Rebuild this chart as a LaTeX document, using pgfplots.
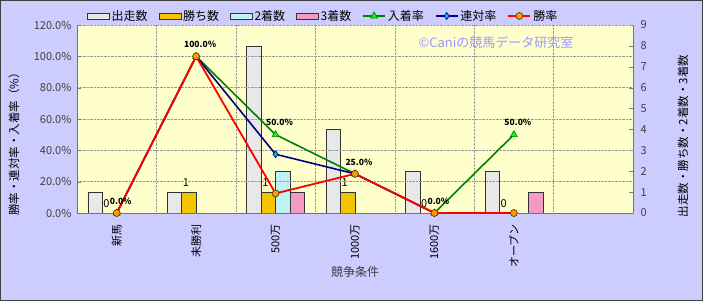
\documentclass[border=0pt]{standalone}
\usepackage{pgfplots}
\pgfplotsset{compat=1.18}
\usepackage{fontspec}
\setmainfont{Noto Sans CJK JP}
\definecolor{outerbg}{HTML}{CCCCFF}
\definecolor{plotbg}{HTML}{FFFFCC}
\definecolor{barrun}{HTML}{E8E8E8}
\definecolor{barwin}{HTML}{F5C400}
\definecolor{barsec}{HTML}{BFF2F2}
\definecolor{barthr}{HTML}{F49AC8}
\definecolor{lgreen}{HTML}{008000}
\definecolor{lnavy}{HTML}{000080}
\definecolor{mkorange}{HTML}{FF9900}
\definecolor{wmark}{HTML}{9999FF}
\newcommand{\tfont}{\fontsize{11}{13}\selectfont}
\pgfplotsset{
  barleg/.style={legend image code/.code={\draw[##1] (0pt,-3pt) rectangle (22pt,3pt);}},
  lineleg/.style={legend image code/.code={\draw[##1,mark repeat=2,mark phase=2] plot coordinates {(0pt,0pt) (11pt,0pt) (22pt,0pt)};}},
}
\begin{document}
\begin{tikzpicture}[x=1pt,y=1pt]
\fill[outerbg, draw=black!75, line width=1pt] (0.5,0.5) rectangle (702.5,300.5);
% ---------------- bar axis (counts, right) ----------------
\begin{axis}[
  at={(77pt,88pt)}, anchor=south west,
  scale only axis, width=556pt, height=188pt,
  xmin=-0.5, xmax=6.5, ymin=0, ymax=9,
  /pgf/number format/assume math mode=true,
  axis background/.style={fill=plotbg},
  axis x line*=bottom, axis y line*=right,
  axis line style={-, draw=black!55},
  tick align=inside, major tick length=4pt,
  ytick={0,...,9},
  y tick label style={font=\tfont, text=black!75},
  yticklabel shift=4pt,
  xtick={0,...,6},
  xticklabels={新馬,未勝利,500万,1000万,1600万,オープン,{}},
  x tick label style={rotate=90, anchor=east, font=\tfont},
  xticklabel shift=4pt,
  major x tick style={draw=none},
  minor xtick={0.5,1.5,2.5,3.5,4.5,5.5},
  minor x tick style={draw=none},
  xminorgrids, minor x grid style={densely dotted, black!40},
  xlabel={競争条件},
  xlabel style={at={(axis description cs:0.5,-0.314)}, anchor=center, font=\fontsize{12}{14}\selectfont, text=black!75},
  ylabel={出走数・勝ち数・2着数・3着数},
  ylabel style={at={(axis description cs:1.090,0.41)}, anchor=center, rotate=0, font=\fontsize{11.5}{14}\selectfont},
  ybar=0pt, bar width=14.5pt,
  clip=false,
]
\addplot[draw=black!80, fill=barrun]
  coordinates {(0,1) (1,1) (2,8) (3,4) (4,2) (5,2)};
\addplot[draw=black!80, fill=barwin,
  nodes near coords={\pgfmathprintnumber[assume math mode=true]{\pgfplotspointmeta}},
  every node near coord/.append style={font=\tfont, text=black, yshift=2pt, xshift=-3pt},
  nodes near coords align=vertical]
  coordinates {(0,0) (1,1) (2,1) (3,1) (4,0) (5,0)};
\addplot[draw=black!80, fill=barsec]
  coordinates {(0,0) (1,0) (2,2) (3,0) (4,0) (5,0)};
\addplot[draw=black!80, fill=barthr]
  coordinates {(0,0) (1,0) (2,1) (3,0) (4,0) (5,1)};
\end{axis}
% ---------------- line axis (rates, left) ----------------
\begin{axis}[
  at={(77pt,88pt)}, anchor=south west,
  scale only axis, width=556pt, height=188pt,
  xmin=-0.5, xmax=6.5, ymin=0, ymax=120,
  /pgf/number format/assume math mode=true,
  axis x line*=bottom, axis y line*=left,
  axis line style={-, draw=black!55},
  tick align=inside, major tick length=4pt,
  xtick=\empty,
  ytick={0,20,...,120},
  yticklabel={\pgfmathprintnumber[fixed,fixed zerofill,precision=1]{\tick}\%},
  y tick label style={font=\tfont, text=black!75},
  yticklabel shift=2pt,
  ymajorgrids, major y grid style={densely dotted, black!40},
  ylabel={勝率・連対率・入着率（\%）},
  ylabel style={at={(axis description cs:-0.1133,0.38)}, anchor=center, font=\fontsize{11.5}{14}\selectfont},
  clip=false,
  legend columns=7,
  legend style={at={(axis description cs:0.443,1.048)}, anchor=center, draw=none, fill=none,
    font=\fontsize{12}{14}\selectfont, /tikz/every even column/.append style={column sep=9pt},
    inner sep=0pt},
  legend cell align=left,
]
\addlegendimage{barleg, draw=black!80, fill=barrun}
\addlegendimage{barleg, draw=black!80, fill=barwin}
\addlegendimage{barleg, draw=black!80, fill=barsec}
\addlegendimage{barleg, draw=black!80, fill=barthr}
\addplot[lgreen, line width=1.6pt, mark=triangle*, mark size=4pt, mark options={fill=green, draw=lgreen, line width=0.6pt},
  lineleg,
  nodes near coords={\pgfmathprintnumber[fixed,fixed zerofill,precision=1,assume math mode=true]{\pgfplotspointmeta}\%},
  every node near coord/.append style={font=\bfseries\fontsize{8.5}{10}\selectfont, text=black, yshift=5pt, xshift=4pt}]
  coordinates {(0,0) (1,100) (2,50) (3,25) (4,0) (5,50)};
\addplot[lnavy, line width=1.6pt, mark=diamond*, mark size=3.5pt, mark options={fill=cyan, draw=lnavy, line width=0.6pt}, lineleg]
  coordinates {(0,0) (1,100) (2,37.5) (3,25) (4,0) (5,0)};
\addplot[red, line width=1.8pt, mark=*, mark size=3.5pt, mark options={fill=mkorange, draw=black!70!mkorange, line width=0.6pt}, lineleg]
  coordinates {(0,0) (1,100) (2,12.5) (3,25) (4,0) (5,0)};
\legend{出走数,勝ち数,2着数,3着数,入着率,連対率,勝率}
\end{axis}
\node[text=wmark, font=\fontsize{13}{15}\selectfont, anchor=center] at (496,258) {©Caniの競馬データ研究室};
\end{tikzpicture}
\end{document}
